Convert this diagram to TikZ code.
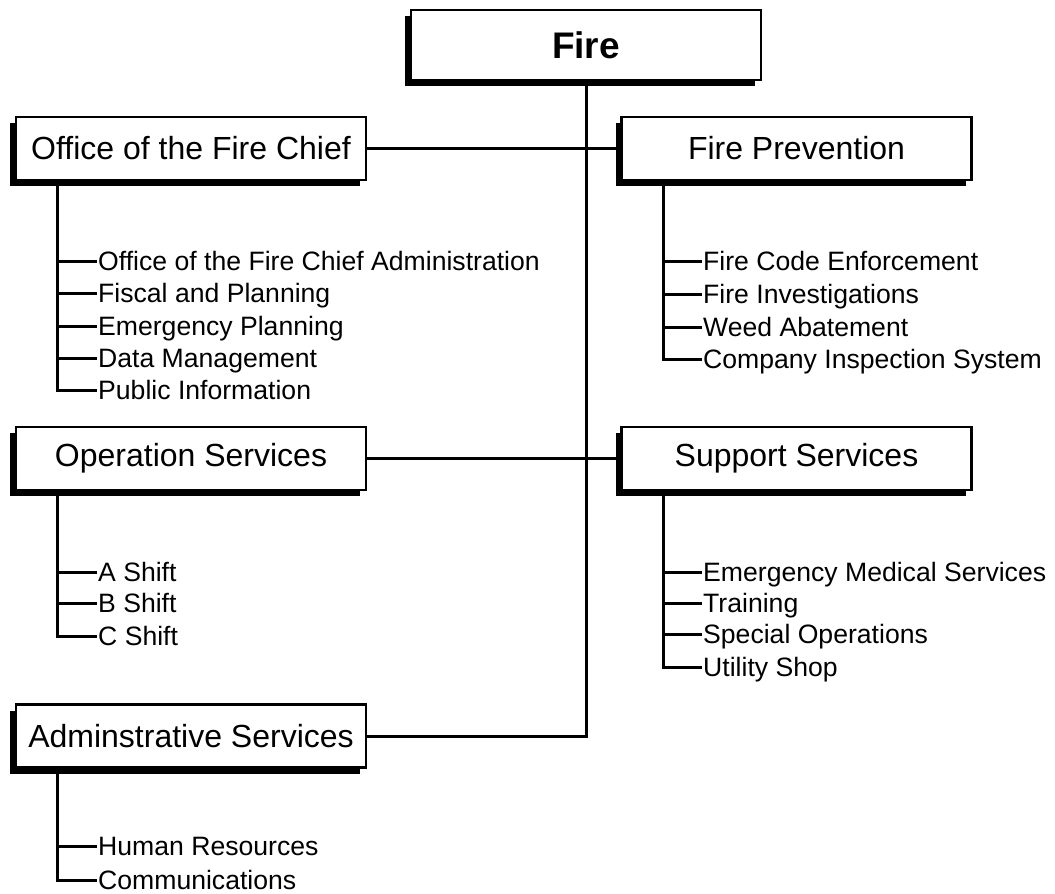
\documentclass[tikz,border=0pt]{standalone}
\usepackage{fontspec}
\setmainfont{Liberation Sans}
\usetikzlibrary{shadows}

\tikzset{
  unitbox/.style={draw, line width=2.2pt, fill=white, minimum width=350pt, minimum height=63pt,
    inner sep=0pt, font=\fontsize{32}{38}\selectfont,
    general shadow={fill=black, shadow xshift=-6pt, shadow yshift=-6pt}},
  topbox/.style={unitbox, minimum height=70pt, font=\fontsize{37}{44}\selectfont\bfseries},
  item/.style={anchor=west, inner sep=1pt, text height=19pt, text depth=0pt,
    font=\fontsize{26.6}{30}\selectfont},
  link/.style={line width=3pt},
}

\begin{document}
\begin{tikzpicture}[x=1pt, y=-1pt]

      \useasboundingbox (0,0) rectangle (1055,894);

      % Boxes
      \node[topbox] (fire) at (586,45) {Fire};
      \node[unitbox] (chief) at (191,148.5) {Office of the Fire Chief};
      \node[unitbox] (prev) at (796.5,148.5) {Fire Prevention};
      \node[unitbox] (oper) at (191,458.5) {Operation Services};
      \node[unitbox] (supp) at (796.5,458.5) {Support Services};
      \node[unitbox] (admin) at (191,736) {Adminstrative Services};

      % Office of the Fire Chief
      \node[item] (chief1) at (97,261) {Office of the Fire Chief Administration};
      \node[item] (chief2) at (97,293) {Fiscal and Planning};
      \node[item] (chief3) at (97,326) {Emergency Planning};
      \node[item] (chief4) at (97,358) {Data Management};
      \node[item] (chief5) at (97,390) {Public Information};

      % Fire Prevention
      \node[item] (prev1) at (702,261) {Fire Code Enforcement};
      \node[item] (prev2) at (702,294) {Fire Investigations};
      \node[item] (prev3) at (702,327) {Weed Abatement};
      \node[item] (prev4) at (702,359) {Company Inspection System};

      % Operation Services
      \node[item] (oper1) at (97,572) {A Shift};
      \node[item] (oper2) at (97,603) {B Shift};
      \node[item] (oper3) at (97,636) {C Shift};

      % Support Services
      \node[item] (supp1) at (702,572) {Emergency Medical Services};
      \node[item] (supp2) at (702,603) {Training};
      \node[item] (supp3) at (702,634) {Special Operations};
      \node[item] (supp4) at (702,667) {Utility Shop};

      % Adminstrative Services
      \node[item] (admin1) at (97,846) {Human Resources};
      \node[item] (admin2) at (97,880) {Communications};

      % Main links
      \draw[link] (fire.south) |- (admin.east);
      \draw[link] (chief.east) -- (prev.west);
      \draw[link] (oper.east) -- (supp.west);

      % Sub links
      \draw[link] ([xshift=43pt]chief.south west) |- (chief5.west);
      \draw[link] (chief1.west) -- ++(-38,0);
      \draw[link] (chief2.west) -- ++(-38,0);
      \draw[link] (chief3.west) -- ++(-38,0);
      \draw[link] (chief4.west) -- ++(-38,0);

      \draw[link] ([xshift=43pt]prev.south west) |- (prev4.west);
      \draw[link] (prev1.west) -- ++(-38,0);
      \draw[link] (prev2.west) -- ++(-38,0);
      \draw[link] (prev3.west) -- ++(-38,0);

      \draw[link] ([xshift=43pt]oper.south west) |- (oper3.west);
      \draw[link] (oper1.west) -- ++(-38,0);
      \draw[link] (oper2.west) -- ++(-38,0);

      \draw[link] ([xshift=43pt]supp.south west) |- (supp4.west);
      \draw[link] (supp1.west) -- ++(-38,0);
      \draw[link] (supp2.west) -- ++(-38,0);
      \draw[link] (supp3.west) -- ++(-38,0);

      \draw[link] ([xshift=43pt]admin.south west) |- (admin2.west);
      \draw[link] (admin1.west) -- ++(-38,0);

    \end{tikzpicture}
\end{document}
